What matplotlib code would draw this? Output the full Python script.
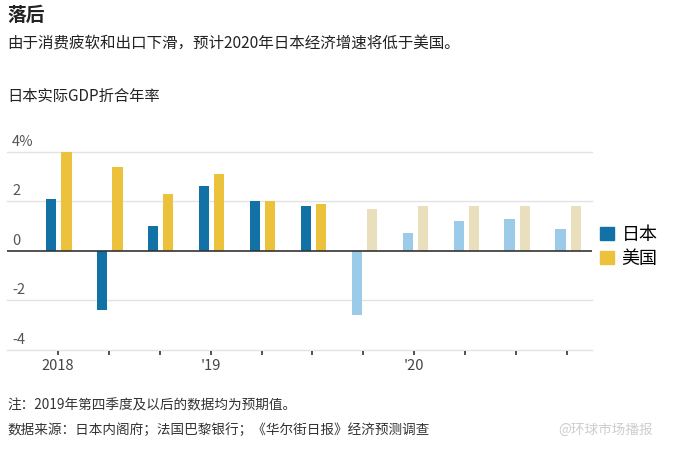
import matplotlib
matplotlib.use("Agg")
import matplotlib.pyplot as plt
import matplotlib.patches as mpatches
import matplotlib.transforms as mtransforms

plt.rcParams['font.family'] = ['Noto Sans CJK SC', 'DejaVu Sans']

# ---- data ----
quarters = list(range(11))
japan = [2.1, -2.4, 1.0, 2.6, 2.0, 1.8, -2.6, 0.7, 1.2, 1.3, 0.9]
usa = [4.0, 3.4, 2.3, 3.1, 2.0, 1.9, 1.7, 1.8, 1.8, 1.8, 1.8]
forecast = [False] * 6 + [True] * 5
year_labels = {0: '2018', 3: "'19", 7: "'20"}
y_ticks = [4, 2, 0, -2, -4]
y_tick_labels = ['4%', '2', '0', '-2', '-4']

title = '落后'
subtitle = '由于消费疲软和出口下滑，预计2020年日本经济增速将低于美国。'
chart_label = '日本实际GDP折合年率'
note = '注：2019年第四季度及以后的数据均为预期值。'
source = '数据来源：日本内阁府；法国巴黎银行；《华尔街日报》经济预测调查'
watermark = '@环球市场播报'

jp_color, us_color = '#1272a6', '#ecc13c'
jp_light, us_light = '#9ccbea', '#e9dfbd'

fig = plt.figure(figsize=(6.9, 4.51), dpi=100)
fig.patch.set_facecolor('white')
ax = fig.add_axes([7/690, 1-350/451, (592-7)/690, (350-151.7)/451])
ax.set_xlim(-1.0, 10.49)
ax.set_ylim(-4, 4)
ax.axis('off')

# gridlines
for v in y_ticks:
    if v == 0:
        continue
    ax.axhline(v, color='#e3e3e3', lw=1.0, zorder=0, clip_on=False)

bw = 0.2
for i, (j, u, f) in enumerate(zip(japan, usa, forecast)):
    ax.bar(i - 0.13, j, width=bw, color=jp_light if f else jp_color, zorder=2)
    ax.bar(i + 0.17, u, width=bw, color=us_light if f else us_color, zorder=2)

ax.axhline(0, color='#333333', lw=1.2, zorder=3)

# y tick labels (above gridlines, left)
trans = mtransforms.blended_transform_factory(fig.transFigure, ax.transData)
for v, lab in zip(y_ticks, y_tick_labels):
    ax.text(12/690, v + 0.12, lab, transform=trans, ha='left', va='bottom',
            fontsize=10.5, color='#555555', clip_on=False)

# x ticks
for i in quarters:
    ax.plot([i, i], [-4.05, -4.2], color='#333333', lw=1.2, clip_on=False,
            solid_capstyle='butt')
for i, lab in year_labels.items():
    ax.text(i, -4.38, lab, ha='center', va='top', fontsize=10.5,
            color='#444444', clip_on=False)

# legend
handles = [mpatches.Patch(color=jp_color, label='日本'),
           mpatches.Patch(color=us_color, label='美国')]
fig.legend(handles=handles, loc='center left', bbox_to_anchor=(600/690, 1-247/451),
           frameon=False, fontsize=13, handlelength=0.75, handleheight=0.75,
           handletextpad=0.45, labelspacing=0.35, borderaxespad=0, borderpad=0)

# titles
fig.text(7/690, 1-6/451, title, ha='left', va='top', fontsize=13.5,
         fontweight='bold', color='#222222')
fig.text(7/690, 1-36/451, subtitle, ha='left', va='top', fontsize=11.2,
         color='#222222')
fig.text(7/690, 1-88/451, chart_label, ha='left', va='top', fontsize=11,
         color='#222222')

fig.text(7/690, 1-398/451, note, ha='left', va='top', fontsize=9.8,
         color='#333333')
fig.text(7/690, 1-423/451, source, ha='left', va='top', fontsize=9.8,
         color='#333333')
fig.text(558/690, 1-423/451, watermark, ha='left', va='top', fontsize=9.8,
         color='#c8c8c8', alpha=0.9)

fig.savefig('out.png', dpi=100, facecolor='white')
